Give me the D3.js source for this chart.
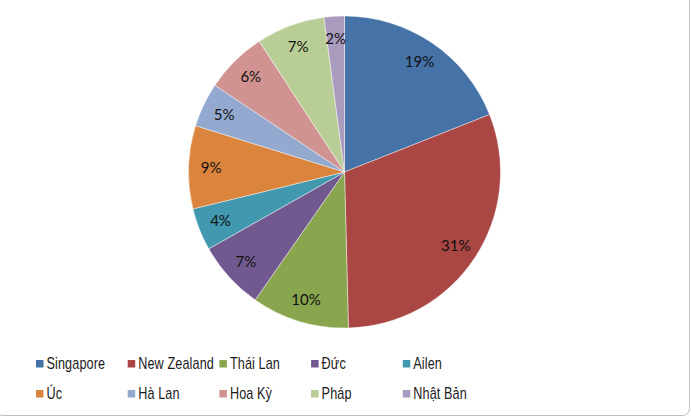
<!DOCTYPE html>
<html>
<head>
<meta charset="utf-8">
<script src="https://cdn.jsdelivr.net/npm/d3@7"></script>
<style>
  html, body { margin: 0; padding: 0; background: #fff; }
  svg { display: block; }
</style>
</head>
<body>
<svg id="chart" width="691" height="417"></svg>
<script>
// ---- data ----
const categories = ["Singapore", "New Zealand", "Thái Lan", "Đức", "Ailen", "Úc", "Hà Lan", "Hoa Kỳ", "Pháp", "Nhật Bản"];
const values = [19.0, 30.6, 10.1, 7.1, 4.4, 8.6, 4.6, 6.4, 7.1, 2.1];
const colors = ["#4572A7", "#AA4643", "#89A54E", "#71588F", "#4198AF", "#DB843D", "#93A9CF", "#D19392", "#B9CD96", "#A99BBD"];

const W = 691, H = 417;
const svg = d3.select("#chart");

// outer chart border (rounded, mostly off-canvas at left/top)
svg.append("rect")
  .attr("x", -4.5).attr("y", -4.5)
  .attr("width", 694).attr("height", 420)
  .attr("rx", 7).attr("ry", 7)
  .attr("fill", "#fff")
  .attr("stroke", "#bfbfbf").attr("stroke-width", 1);

const cx = 344.5, cy = 172, R = 156;
const total = d3.sum(values);
const data = categories.map((c, i) => ({ name: c, value: values[i], color: colors[i] }));

const pie = d3.pie().value(d => d.value).sort(null);
const arcs = pie(data);
const arcGen = d3.arc().innerRadius(0).outerRadius(R);
const labelArc = d3.arc().innerRadius(R * 0.855).outerRadius(R * 0.855);

const g = svg.append("g").attr("transform", `translate(${cx},${cy})`);

g.selectAll("path.slice")
  .data(arcs)
  .enter().append("path")
  .attr("class", "slice")
  .attr("d", arcGen)
  .attr("fill", d => d.data.color)
  .attr("stroke", "rgba(255,255,255,0.55)")
  .attr("stroke-width", 0.8);

const pct = d3.format(".0%");
g.selectAll("text.lbl")
  .data(arcs)
  .enter().append("text")
  .attr("class", "lbl")
  .attr("transform", d => `translate(${labelArc.centroid(d)})`)
  .attr("text-anchor", "middle")
  .attr("dy", "0.35em")
  .attr("font-family", "Lato, 'Liberation Sans', sans-serif")
  .attr("font-size", 15)
  .attr("fill", "#111")
  .text(d => pct(d.data.value / total));

// ---- legend ----
const legX0 = 36, colW = 91.7, legY0 = 360, rowH = 30, perRow = 5;
const leg = svg.append("g").attr("class", "legend");
const items = leg.selectAll("g.item")
  .data(data)
  .enter().append("g")
  .attr("class", "item")
  .attr("transform", (d, i) => `translate(${legX0 + (i % perRow) * colW},${legY0 + Math.floor(i / perRow) * rowH})`);

items.append("rect")
  .attr("x", 0).attr("y", 0)
  .attr("width", 7.5).attr("height", 7.5)
  .attr("fill", d => d.color);

items.append("text")
  .attr("transform", "translate(10.5,8.8) scale(0.79,1)")
  .attr("font-family", "'Liberation Sans', Arial, sans-serif")
  .attr("font-size", 16)
  .attr("letter-spacing", 0.15)
  .attr("fill", "#1a1a1a")
  .text(d => d.name);
</script>
</body>
</html>
